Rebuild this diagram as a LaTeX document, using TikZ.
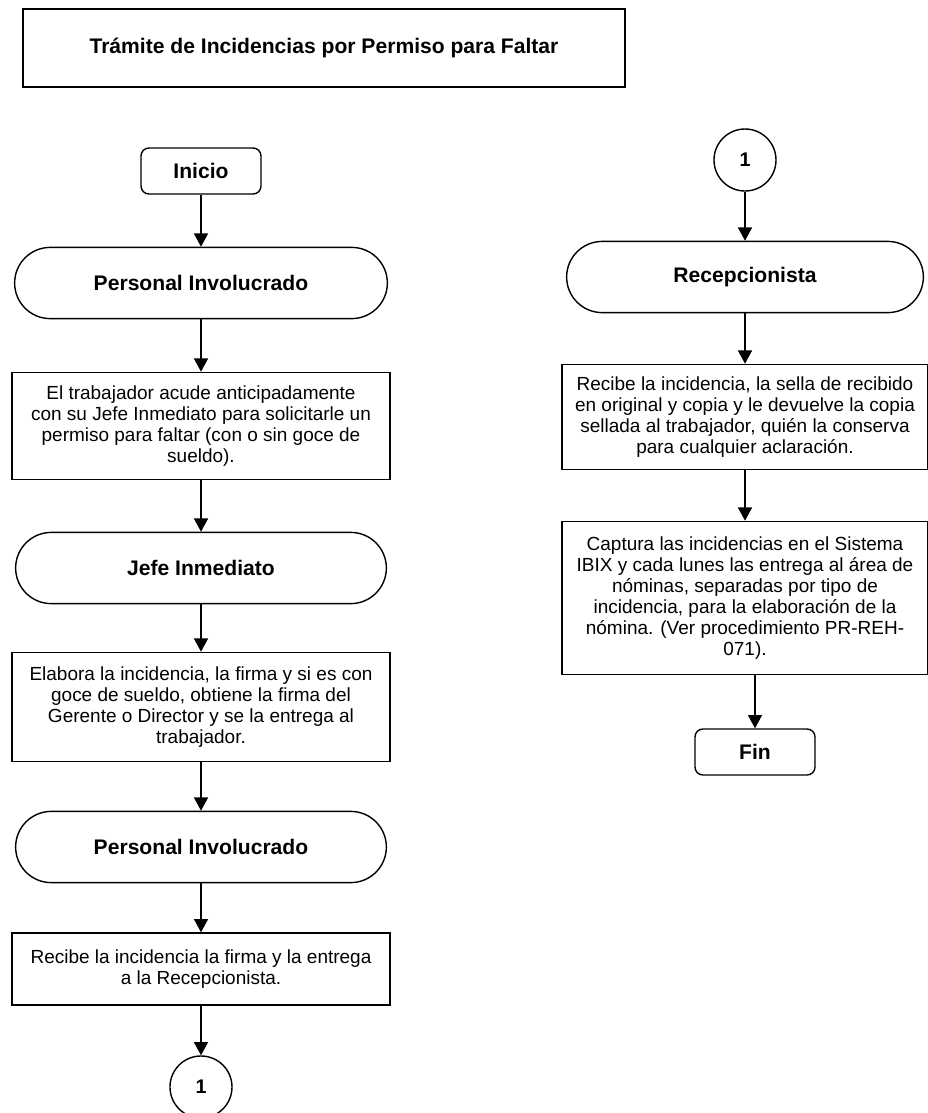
\documentclass[tikz,border=0pt]{standalone}
\usepackage{fontspec}
\setmainfont{Liberation Sans}
\usetikzlibrary{positioning,shapes.misc,arrows.meta}

\begin{document}
\begin{tikzpicture}[x=0.025cm,y=-0.025cm,
    caja/.style={draw,line width=1pt,align=center,inner xsep=2pt,font=\fontsize{13.5}{15}\selectfont},
    rol/.style={draw,line width=1pt,rounded rectangle,minimum height=1.78cm,font=\fontsize{15}{18}\selectfont\bfseries},
    extremo/.style={draw,line width=1pt,rounded corners=0.2cm,minimum width=3cm,minimum height=1.15cm,font=\fontsize{15}{18}\selectfont\bfseries},
    conector/.style={draw,circle,line width=1pt,minimum size=1.55cm,font=\fontsize{14}{16}\selectfont\bfseries},
    flecha/.style={line width=1pt,-{Triangle[length=0.33cm,width=0.35cm]}}]
  \useasboundingbox (0,0) rectangle (928,1113);

  % Title
  \node[draw,line width=1.4pt,minimum width=15.05cm,minimum height=1.95cm,font=\fontsize{15}{18}\selectfont\bfseries] (titulo) at (324,48) {Trámite de Incidencias por Permiso para Faltar};

  % Left column
  \node[extremo] (inicio) at (201,171) {Inicio};
  \node[rol,minimum width=9.55cm] (pinv1) at (201,283) {Personal Involucrado};
  \node[caja,minimum width=9.45cm,minimum height=2.68cm] (paso1) at (201,426) {El trabajador acude anticipadamente\\ con su Jefe Inmediato para solicitarle un\\ permiso para faltar (con o sin goce de\\ sueldo).};
  \node[rol,minimum width=9.5cm] (jefe) at (201,568) {Jefe Inmediato};
  \node[caja,minimum width=9.45cm,minimum height=2.73cm] (paso2) at (201,707) {Elabora la incidencia, la firma y si es con\\ goce de sueldo, obtiene la firma del\\ Gerente o Director y se la entrega al\\ trabajador.};
  \node[rol,minimum width=9.5cm] (pinv2) at (201,847) {Personal Involucrado};
  \node[caja,minimum width=9.45cm,minimum height=1.8cm] (paso3) at (201,969) {Recibe la incidencia la firma y la entrega\\ a la Recepcionista.};
  \node[conector] (salto1) at (201,1087) {1};

  % Right column
  \node[conector] (salto2) at (745,160) {1};
  \node[rol,minimum width=9.15cm] (recep) at (745,277) {Recepcionista};
  \node[caja,minimum width=9.15cm,minimum height=2.63cm] (paso4) at (745,417) {Recibe la incidencia, la sella de recibido\\ en original y copia y le devuelve la copia\\ sellada al trabajador, quién la conserva\\ para cualquier aclaración.};
  \node[caja,minimum width=9.15cm,minimum height=3.83cm] (paso5) at (745,598) {Captura las incidencias en el Sistema\\ IBIX y cada lunes las entrega al área de\\ nóminas, separadas por tipo de\\ incidencia, para la elaboración de la\\ nómina. (Ver procedimiento PR-REH-\\ 071).};
  \node[extremo] (fin) at (755,752) {Fin};

  % Arrows
  \draw[flecha] (inicio.south) -- (pinv1.north);
  \draw[flecha] (pinv1.south) -- (paso1.north);
  \draw[flecha] (paso1.south) -- (jefe.north);
  \draw[flecha] (jefe.south) -- (paso2.north);
  \draw[flecha] (paso2.south) -- (pinv2.north);
  \draw[flecha] (pinv2.south) -- (paso3.north);
  \draw[flecha] (paso3.south) -- (salto1.north);
  \draw[flecha] (salto2.south) -- (recep.north);
  \draw[flecha] (recep.south) -- (paso4.north);
  \draw[flecha] (paso4.south) -- (paso5.north);
  \draw[flecha] (paso5.south -| fin.north) -- (fin.north);
\end{tikzpicture}
\end{document}
